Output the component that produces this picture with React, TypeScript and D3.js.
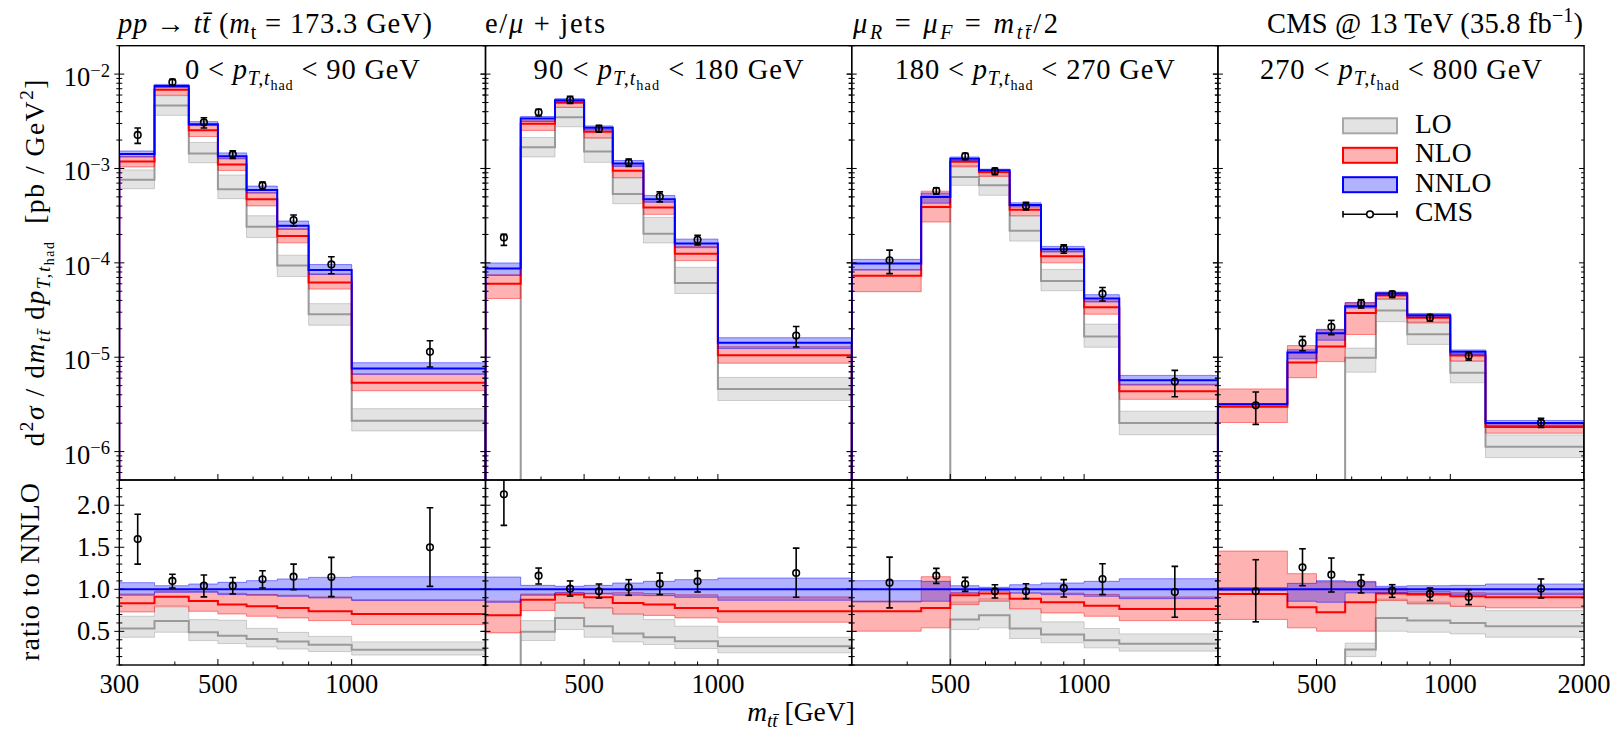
import React from 'react'
import * as d3 from 'd3'

// m_tt bin edges, per pT(t_had) slice
const massEdgesA = [300, 360, 430, 500, 580, 680, 800, 1000, 2000];
const massEdgesB = [300, 430, 500, 580, 680, 800, 1000, 1200, 2000];
const panelEdges = [massEdgesA, massEdgesA, massEdgesB, massEdgesB];

const panelTitles = [['0', '90'], ['90', '180'], ['180', '270'], ['270', '800']];

// NNLO central values [pb / GeV^2]
const nnloCentral = [
  [1.42e-3, 7.46e-3, 2.95e-3, 1.35e-3, 5.9e-4, 2.47e-4, 8.4e-5, 7.6e-6],
  [8.7e-5, 3.39e-3, 5.3e-3, 2.7e-3, 1.13e-3, 4.73e-4, 1.6e-4, 1.42e-5],
  [9.86e-5, 5.0e-4, 1.27e-3, 9.6e-4, 4.1e-4, 1.39e-4, 4.2e-5, 5.7e-6],
  [3.17e-6, 1.12e-5, 1.79e-5, 3.47e-5, 4.74e-5, 2.79e-5, 1.14e-5, 2.01e-6],
];

// everything below is ratio to NNLO central
const nnloUp = [
  [1.079, 1.043, 1.063, 1.083, 1.103, 1.123, 1.142, 1.15],
  [1.146, 1.047, 1.036, 1.047, 1.075, 1.095, 1.115, 1.134],
  [1.103, 1.095, 1.043, 1.024, 1.055, 1.075, 1.095, 1.126],
  [1.02, 1.071, 1.103, 1.087, 1.036, 1.043, 1.047, 1.063],
];
const nnloDown = [
  [0.93, 0.964, 0.965, 0.937, 0.929, 0.917, 0.897, 0.866],
  [0.846, 0.929, 0.957, 0.945, 0.93, 0.925, 0.905, 0.87],
  [0.85, 0.858, 0.953, 0.984, 0.957, 0.937, 0.917, 0.889],
  [0.985, 0.858, 0.846, 0.957, 0.957, 0.95, 0.94, 0.935],
];
const nloCentral = [
  [0.834, 0.913, 0.862, 0.818, 0.8, 0.779, 0.739, 0.707],
  [0.692, 0.877, 0.937, 0.905, 0.838, 0.818, 0.779, 0.739],
  [0.739, 0.779, 0.929, 0.949, 0.889, 0.846, 0.806, 0.767],
  [0.945, 0.787, 0.727, 0.846, 0.949, 0.937, 0.917, 0.905],
];
const nloUp = [
  [0.945, 0.98, 0.976, 0.953, 0.94, 0.93, 0.91, 0.877],
  [0.86, 0.945, 0.96, 0.955, 0.96, 0.95, 0.935, 0.91],
  [0.86, 1.15, 0.96, 0.975, 0.955, 0.955, 0.94, 0.91],
  [1.455, 1.186, 1.09, 1.095, 1.016, 0.975, 0.96, 0.955],
];
const nloDown = [
  [0.731, 0.8, 0.739, 0.707, 0.68, 0.66, 0.628, 0.581],
  [0.482, 0.747, 0.838, 0.779, 0.708, 0.69, 0.66, 0.609],
  [0.502, 0.542, 0.818, 0.858, 0.771, 0.719, 0.68, 0.628],
  [0.642, 0.542, 0.502, 0.502, 0.866, 0.826, 0.798, 0.779],
];
const loCentral = [
  [0.535, 0.622, 0.49, 0.447, 0.408, 0.38, 0.34, 0.28],
  [0, 0.494, 0.66, 0.561, 0.474, 0.43, 0.383, 0.324],
  [0, 0, 0.64, 0.692, 0.534, 0.462, 0.395, 0.352],
  [0, 0, 0, 0.285, 0.66, 0.628, 0.6, 0.561],
];
const loUp = [
  [0.68, 0.79, 0.64, 0.632, 0.535, 0.488, 0.44, 0.375],
  [0, 0.628, 0.838, 0.779, 0.7, 0.64, 0.561, 0.43],
  [0, 0, 0.85, 0.889, 0.759, 0.613, 0.534, 0.47],
  [0, 0, 0, 0.36, 0.885, 0.85, 0.798, 0.747],
];
const loDown = [
  [0.43, 0.49, 0.39, 0.355, 0.315, 0.29, 0.26, 0.218],
  [0, 0.391, 0.522, 0.43, 0.375, 0.344, 0.296, 0.245],
  [0, 0, 0.522, 0.542, 0.415, 0.364, 0.304, 0.265],
  [0, 0, 0, 0.2, 0.502, 0.49, 0.47, 0.43],
];
const cmsValue = [
  [1.597, 1.1, 1.043, 1.043, 1.12, 1.15, 1.146, 1.5],
  [2.13, 1.162, 1.008, 0.976, 1.024, 1.067, 1.095, 1.194],
  [1.079, 1.162, 1.063, 0.976, 0.976, 1.016, 1.123, 0.968],
  [0.976, 1.261, 1.174, 1.071, 0.984, 0.945, 0.909, 1.008],
];
const cmsUp = [
  [1.893, 1.18, 1.17, 1.14, 1.22, 1.3, 1.38, 1.97],
  [2.3, 1.253, 1.1, 1.063, 1.115, 1.194, 1.221, 1.49],
  [1.383, 1.249, 1.142, 1.055, 1.067, 1.115, 1.304, 1.273],
  [1.352, 1.482, 1.372, 1.174, 1.055, 1.016, 0.996, 1.123],
];
const cmsDown = [
  [1.3, 1.016, 0.91, 0.945, 1.016, 0.996, 0.913, 1.035],
  [1.76, 1.063, 0.92, 0.897, 0.929, 0.937, 0.968, 0.905],
  [0.779, 1.071, 0.976, 0.897, 0.889, 0.909, 0.937, 0.668],
  [0.613, 1.043, 0.968, 0.957, 0.905, 0.866, 0.818, 0.897],
];

const xTickLabels = [300, 500, 1000, 2000];
const legendItems = ['LO', 'NLO', 'NNLO', 'CMS'];

const W = 1622, H = 739;
const plotLeft = 119.3, panelW = 366.2;
const topY = 45.7, midY = 480, botY = 665;
const FONT = 'Liberation Serif';
const titleWidths = [235, 270, 280, 282];

const yTop = d3.scaleLog().domain([5e-7, 2e-2]).range([midY, topY]);
const yRat = d3.scaleLinear().domain([0.1, 2.3]).range([botY, midY]);

const styles = {
  lo: { fill: 'rgba(128,128,128,0.22)', edge: 'rgba(128,128,128,0.35)', line: '#9a9a9a' },
  nlo: { fill: 'rgba(255,0,0,0.3)', edge: 'rgba(255,0,0,0.45)', line: '#ff0000' },
  nnlo: { fill: 'rgba(0,0,255,0.3)', edge: 'rgba(0,0,255,0.45)', line: '#0000ff' },
};

type Seg = { t: string; it?: boolean; sh?: number; fs?: number };

function MathText(props: { x: number; y: number; segs: Seg[]; size: number; anchor?: string; transform?: string; len?: number }) {
  let cur = 0;
  return (
    <text x={props.x} y={props.y} fontSize={props.size} textAnchor={props.anchor || 'start'}
      transform={props.transform} fontFamily={FONT} fill="#000" style={{ whiteSpace: 'pre' }}
      textLength={props.len} lengthAdjust={props.len ? 'spacing' : undefined}>
      {props.segs.map((s, i) => {
        const sh = (s.sh || 0) * props.size;
        const dy = sh - cur;
        cur = sh;
        return <tspan key={i} dy={dy} fontStyle={s.it ? 'italic' : 'normal'}
          fontSize={s.fs ? s.fs * props.size : undefined}>{s.t}</tspan>;
      })}
    </text>
  );
}

const SUB = 0.22, SUBSUB = 0.38, SUP = -0.4;
const ttbar: Seg[] = [{ t: 'tt\u0304', it: true, sh: SUB, fs: 0.7 }];
const ptHad: Seg[] = [
  { t: 'p', it: true },
  { t: 'T,t', it: true, sh: SUB, fs: 0.7 },
  { t: 'had', sh: SUBSUB, fs: 0.5 },
];

function Panel({ p }: { p: number }) {
  const x0 = plotLeft + p * panelW;
  const xs = d3.scaleLog().domain([300, 2000]).range([x0, x0 + panelW]);
  const edges = panelEdges[p];
  const nn = nnloCentral[p];
  const abs = (r: number[]) => r.map((v, i) => v * nn[i]);

  const steps = (vals: number[]) =>
    edges.slice(0, -1).flatMap((e, i) => [[e, vals[i]], [edges[i + 1], vals[i]]]);
  const band = (lo: number[], hi: number[]) =>
    edges.slice(0, -1).flatMap((e, i) => [[e, lo[i], hi[i]], [edges[i + 1], lo[i], hi[i]]]);

  const yT = (v: number) => (v > 0 ? yTop(v) : midY + 40);
  const yR = (v: number) => yRat(v);

  const lineT = d3.line<number[]>().x(d => xs(d[0])).y(d => yT(d[1]));
  const areaT = d3.area<number[]>().x(d => xs(d[0])).y0(d => yT(d[1])).y1(d => yT(d[2]));
  const lineR = d3.line<number[]>().x(d => xs(d[0])).y(d => yR(d[1]));
  const areaR = d3.area<number[]>().x(d => xs(d[0])).y0(d => yR(d[1])).y1(d => yR(d[2]));

  const topLine = (vals: number[]) => lineT([[300, 0], ...steps(vals), [2000, 0]]) || '';

  const orders = [
    { key: 'lo', c: loCentral[p], up: loUp[p], dn: loDown[p] },
    { key: 'nlo', c: nloCentral[p], up: nloUp[p], dn: nloDown[p] },
    { key: 'nnlo', c: nn.map(() => 1), up: nnloUp[p], dn: nnloDown[p] },
  ];

  const centers = edges.slice(0, -1).map((e, i) => (e + edges[i + 1]) / 2);
  const xTicks = xs.ticks().filter(v => v > 300 && v < 2000);
  const yTicksTop = yTop.ticks();
  const yTicksRat = d3.range(1, 23).map(i => i / 10);
  const isDecade = (v: number) => Math.abs(Math.log10(v) - Math.round(Math.log10(v))) < 1e-6;

  return (
    <g>
      <clipPath id={`ct${p}`}><rect x={x0} y={topY} width={panelW} height={midY - topY} /></clipPath>
      <clipPath id={`cr${p}`}><rect x={x0} y={midY} width={panelW} height={botY - midY} /></clipPath>

      {/* upper panel */}
      <g clipPath={`url(#ct${p})`}>
        {orders.map(o => {
          const st = (styles as any)[o.key];
          return (
            <g key={o.key}>
              <path d={areaT(band(abs(o.dn), abs(o.up))) || ''} fill={st.fill} stroke={st.edge} strokeWidth={1} />
              <path d={topLine(abs(o.c))} fill="none" stroke={st.line} strokeWidth={2} />
            </g>
          );
        })}
        {centers.map((c, i) => (
          <g key={i} stroke="#000" strokeWidth={1.6} fill="none">
            <line x1={xs(c)} x2={xs(c)} y1={yT(cmsUp[p][i] * nn[i])} y2={yT(cmsDown[p][i] * nn[i])} />
            <line x1={xs(c) - 3.3} x2={xs(c) + 3.3} y1={yT(cmsUp[p][i] * nn[i])} y2={yT(cmsUp[p][i] * nn[i])} />
            <line x1={xs(c) - 3.3} x2={xs(c) + 3.3} y1={yT(cmsDown[p][i] * nn[i])} y2={yT(cmsDown[p][i] * nn[i])} />
            <circle cx={xs(c)} cy={yT(cmsValue[p][i] * nn[i])} r={3.3} />
          </g>
        ))}
      </g>

      {/* ratio panel */}
      <g clipPath={`url(#cr${p})`}>
        {orders.map(o => {
          const st = (styles as any)[o.key];
          return (
            <g key={o.key}>
              <path d={areaR(band(o.dn, o.up)) || ''} fill={st.fill} stroke={st.edge} strokeWidth={1} />
              <path d={lineR(steps(o.c)) || ''} fill="none" stroke={st.line} strokeWidth={2} />
            </g>
          );
        })}
        {centers.map((c, i) => (
          <g key={i} stroke="#000" strokeWidth={1.6} fill="none">
            <line x1={xs(c)} x2={xs(c)} y1={yR(cmsUp[p][i])} y2={yR(cmsDown[p][i])} />
            <line x1={xs(c) - 3.3} x2={xs(c) + 3.3} y1={yR(cmsUp[p][i])} y2={yR(cmsUp[p][i])} />
            <line x1={xs(c) - 3.3} x2={xs(c) + 3.3} y1={yR(cmsDown[p][i])} y2={yR(cmsDown[p][i])} />
            <circle cx={xs(c)} cy={yR(cmsValue[p][i])} r={3.3} />
          </g>
        ))}
      </g>

      {/* ticks */}
      <g stroke="#000" strokeWidth={1}>
        {xTicks.map(v => {
          const L = v === 500 || v === 1000 ? 6 : 3.5;
          return (
            <g key={v}>
              <line x1={xs(v)} x2={xs(v)} y1={midY} y2={midY - L} />
              <line x1={xs(v)} x2={xs(v)} y1={botY} y2={botY - L} />
            </g>
          );
        })}
        {yTicksTop.map(v => {
          const L = isDecade(v) ? 5 : 3;
          const y = yTop(v);
          return (
            <g key={v}>
              <line x1={x0 - L} x2={x0 + L} y1={y} y2={y} />
              <line x1={x0 + panelW - L} x2={x0 + panelW} y1={y} y2={y} />
            </g>
          );
        })}
        {yTicksRat.map((v, i) => {
          const L = (i + 1) % 5 === 0 ? 5 : 3;
          const y = yRat(v);
          return (
            <g key={v}>
              <line x1={x0 - L} x2={x0 + L} y1={y} y2={y} />
              <line x1={x0 + panelW - L} x2={x0 + panelW} y1={y} y2={y} />
            </g>
          );
        })}
      </g>

      {/* frames */}
      <rect x={x0} y={topY} width={panelW} height={midY - topY} fill="none" stroke="#000" strokeWidth={1.4} />
      <rect x={x0} y={midY} width={panelW} height={botY - midY} fill="none" stroke="#000" strokeWidth={1.4} />

      {/* x tick labels */}
      {xTickLabels.filter(v => (v !== 300 || p === 0) && (v !== 2000 || p === 3)).map(v => (
        <text key={v} x={xs(v)} y={693} fontSize={26.5} textAnchor="middle" fontFamily={FONT}>{v}</text>
      ))}

      {/* slice title */}
      <MathText x={x0 + panelW / 2} y={79} size={28.5} anchor="middle" len={titleWidths[p]}
        segs={[{ t: panelTitles[p][0] + ' < ' }, ...ptHad, { t: ' < ' + panelTitles[p][1] + ' GeV' }]} />
    </g>
  );
}

function Legend() {
  const x = 1343, w = 54, h = 15;
  const ys = [125.8, 155.3, 184.7, 214.3];
  const st = [styles.lo, styles.nlo, styles.nnlo];
  const edgeCols = ['#a8a8a8', '#ff0000', '#0000ff'];
  return (
    <g>
      {legendItems.map((name, i) => (
        <g key={name}>
          {i < 3 ? (
            <rect x={x} y={ys[i] - h / 2} width={w} height={h} fill={st[i].fill} stroke={edgeCols[i]} strokeWidth={2} />
          ) : (
            <g stroke="#000" strokeWidth={1.6} fill="none">
              <line x1={x} x2={x + w} y1={ys[i]} y2={ys[i]} />
              <line x1={x} x2={x} y1={ys[i] - 3.3} y2={ys[i] + 3.3} />
              <line x1={x + w} x2={x + w} y1={ys[i] - 3.3} y2={ys[i] + 3.3} />
              <circle cx={x + w / 2} cy={ys[i]} r={3.3} fill="#fff" />
            </g>
          )}
          <text x={1415} y={ys[i] + 6.8} fontSize={27.5} fontFamily={FONT}>{name}</text>
        </g>
      ))}
    </g>
  );
}

export default function App() {
  const yTicksTop = yTop.ticks().filter(v => Math.abs(Math.log10(v) - Math.round(Math.log10(v))) < 1e-6);
  const ratioLabels = [0.5, 1.0, 1.5, 2.0];
  return (
    <svg width={W} height={H} style={{ position: 'absolute', left: 0, top: 0, background: '#fff' }}>
      <rect x={0} y={0} width={W} height={H} fill="#fff" />
      {[0, 1, 2, 3].map(p => <Panel key={p} p={p} />)}
      <Legend />

      {yTicksTop.map(v => (
        <MathText key={v} x={110} y={yTop(v) + 12} size={26.5} anchor="end"
          segs={[{ t: '10' }, { t: '\u2212' + Math.round(-Math.log10(v)), sh: -0.36, fs: 0.7 }]} />
      ))}
      {ratioLabels.map(v => (
        <text key={v} x={110} y={yRat(v) + 9} fontSize={26.5} textAnchor="end" fontFamily={FONT}>{v.toFixed(1)}</text>
      ))}

      <MathText x={118} y={33} size={28.5} len={314}
        segs={[{ t: 'pp', it: true }, { t: ' \u2192 ' }, { t: 'tt\u0304', it: true }, { t: ' (' },
          { t: 'm', it: true }, { t: 't', sh: SUB, fs: 0.7 }, { t: ' = 173.3 GeV)', sh: 0 }]} />
      <MathText x={485} y={33} size={28.5} len={120}
        segs={[{ t: 'e/' }, { t: '\u03bc', it: true }, { t: ' + jets' }]} />
      <MathText x={853} y={33} size={28.5} len={205}
        segs={[{ t: '\u03bc', it: true }, { t: 'R', it: true, sh: SUB, fs: 0.7 }, { t: ' = ', sh: 0 },
          { t: '\u03bc', it: true }, { t: 'F', it: true, sh: SUB, fs: 0.7 }, { t: ' = ', sh: 0 },
          { t: 'm', it: true }, ...ttbar, { t: '/2', sh: 0 }]} />
      <MathText x={1583} y={33} size={28.5} anchor="end" len={316}
        segs={[{ t: 'CMS @ 13 TeV (35.8 fb' }, { t: '\u22121', sh: SUP, fs: 0.7 }, { t: ')', sh: 0 }]} />

      <MathText x={0} y={0} size={27.5} anchor="middle" transform="translate(44,263) rotate(-90)" len={367}
        segs={[{ t: 'd' }, { t: '2', sh: SUP, fs: 0.7 }, { t: '\u03c3', it: true, sh: 0 }, { t: ' / d' },
          { t: 'm', it: true }, ...ttbar, { t: ' d', sh: 0 }, ...ptHad,
          { t: '  [pb / GeV', sh: 0 }, { t: '2', sh: SUP, fs: 0.7 }, { t: ']', sh: 0 }]} />
      <MathText x={0} y={0} size={28} anchor="middle" transform="translate(38.5,572) rotate(-90)" len={178}
        segs={[{ t: 'ratio to NNLO' }]} />
      <MathText x={801} y={721} size={27.5} anchor="middle"
        segs={[{ t: 'm', it: true }, ...ttbar, { t: ' [GeV]', sh: 0 }]} />
    </svg>
  );
}
